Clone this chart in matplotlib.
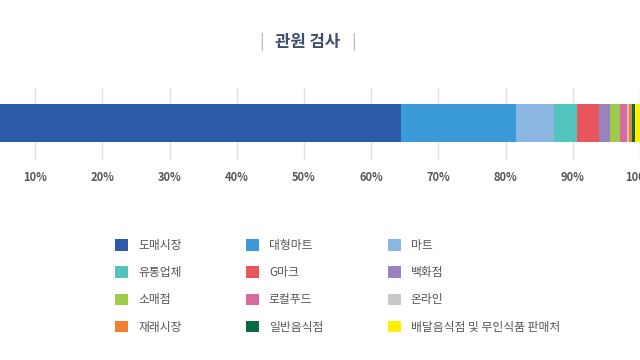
import matplotlib
matplotlib.use("Agg")
import matplotlib.pyplot as plt
from matplotlib.patches import Patch

plt.rcParams['font.family'] = ['Noto Sans CJK KR', 'DejaVu Sans']

# share of inspections by place (%)
places = ["도매시장", "대형마트", "마트", "유통업체", "G마크", "백화점",
          "소매점", "로컬푸드", "온라인", "재래시장", "일반음식점",
          "배달음식점 및 무인식품 판매처"]
shares = [64.4, 17.1, 5.7, 3.4, 3.3, 1.6, 1.5, 1.0, 0.3, 0.5, 0.5, 0.7]
colors = ["#2b5ba9", "#3a9bd8", "#8cb6e2", "#52c5bf", "#e8575e", "#9a82bf",
          "#9dcb4b", "#d96aa1", "#c9c9c9", "#ef7f31", "#0b6a40", "#fff000"]
ticks = [10, 20, 30, 40, 50, 60, 70, 80, 90, 100]
tick_labels = [f"{t}%" for t in ticks]

fig = plt.figure(figsize=(6.4, 3.6), dpi=100)
ax = fig.add_axes([-0.05, 0.556, 1.05, 0.2])

left = 0
for v, c in zip(shares, colors):
    ax.barh(0, v, left=left, height=1, color=c, zorder=3)
    left += v

ax.set_xlim(0, 100)
ax.set_ylim(-0.974, 0.921)
ax.set_xticks(ticks)
ax.set_xticklabels(tick_labels, fontsize=8, fontweight="bold", color="#555555")
ax.tick_params(axis="x", length=0, pad=8)
ax.set_yticks([])
ax.grid(axis="x", color="#e2e2e2", linewidth=1, zorder=0)
for s in ax.spines.values():
    s.set_visible(False)

# title
fig.text(0.481, 1 - 42 / 360, "관원 검사", ha="center", va="center",
         fontsize=12, fontweight="bold", color="#3d4f6d")
fig.text(262 / 640, 1 - 42 / 360, "|", ha="center", va="center",
         fontsize=12, color="#a9b4c6")
fig.text(354 / 640, 1 - 42 / 360, "|", ha="center", va="center",
         fontsize=12, color="#a9b4c6")

# legend, filled row by row in 3 columns
handles = [Patch(facecolor=c, edgecolor="none") for c in colors]
order = [0, 3, 6, 9, 1, 4, 7, 10, 2, 5, 8, 11]
fig.legend([handles[i] for i in order], [places[i] for i in order],
           ncol=3, loc="upper left", bbox_to_anchor=(115 / 640, 1 - 239 / 360),
           frameon=False, fontsize=8.5, labelcolor="#555555",
           handlelength=1.1, handleheight=1.1, handletextpad=0.85,
           columnspacing=5.45, labelspacing=1.2, borderpad=0, borderaxespad=0)

fig.savefig("out.png", dpi=100, facecolor="white")
